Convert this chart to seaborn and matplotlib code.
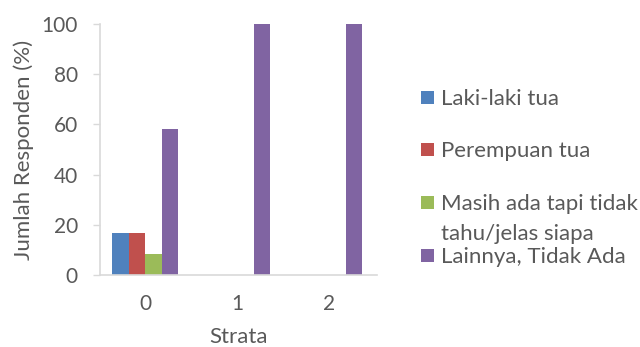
import matplotlib
matplotlib.use("Agg")
import matplotlib.pyplot as plt
from matplotlib.patches import Rectangle
import seaborn as sns
import pandas as pd

strata = ["0", "1", "2"]
series = ["Laki-laki tua", "Perempuan tua", "Masih ada tapi tidak\ntahu/jelas siapa", "Lainnya, Tidak Ada"]
laki_laki_tua = [16.7, 0, 0]
perempuan_tua = [16.7, 0, 0]
tidak_tahu = [8.3, 0, 0]
lainnya = [58.3, 100, 100]
colors = ["#4F81BD", "#C0504D", "#9BBB59", "#8064A2"]

values = [laki_laki_tua, perempuan_tua, tidak_tahu, lainnya]
df = pd.DataFrame(
    [(s, name, v) for name, vals in zip(series, values) for s, v in zip(strata, vals)],
    columns=["Strata", "Seri", "Nilai"],
)

sns.set_theme(style="white")
plt.rcParams["font.family"] = ["Lato", "DejaVu Sans"]
text_color = "#595959"
axis_color = "#D9D9D9"
tick_fs = 15
label_fs = 16

fig = plt.figure(figsize=(6.4, 3.47), dpi=100)
ax = fig.add_axes([0.15625, 0.2075, 0.433, 0.7233])
sns.barplot(data=df, x="Strata", y="Nilai", hue="Seri", hue_order=series,
            palette=colors, width=0.72, saturation=1, legend=False, ax=ax,
            edgecolor="none", linewidth=0)

ax.set_ylim(0, 100)
ax.set_xlim(-0.49, 2.52)
ax.set_yticks([0, 20, 40, 60, 80, 100])
ax.tick_params(axis="y", which="major", length=5, width=1, color=axis_color,
               labelsize=tick_fs, labelcolor=text_color, pad=11, left=True)
ax.tick_params(axis="x", length=0, labelsize=tick_fs, labelcolor=text_color, pad=14)
for side in ["top", "right"]:
    ax.spines[side].set_visible(False)
for side in ["left", "bottom"]:
    ax.spines[side].set_color(axis_color)
    ax.spines[side].set_linewidth(1.2)
ax.set_xlabel("Strata", fontsize=label_fs, color=text_color, labelpad=9)
ax.set_ylabel("Jumlah Responden (%)", fontsize=label_fs, color=text_color, labelpad=5)

# legend drawn in figure pixel coordinates
W, H = 640, 347
entries = [
    (97, ["Laki-laki tua"]),
    (149, ["Perempuan tua"]),
    (202, ["Masih ada tapi tidak", "tahu/jelas siapa"]),
    (255, ["Lainnya, Tidak Ada"]),
]
for (yc, lines), col in zip(entries, colors):
    fig.add_artist(Rectangle((421 / W, 1 - (yc + 6.5) / H), 13 / W, 13 / H,
                             transform=fig.transFigure, facecolor=col, edgecolor="none"))
    for i, line in enumerate(lines):
        fig.text(441 / W, 1 - (yc + 30 * i) / H, line, fontsize=label_fs, color=text_color,
                 va="center_baseline", ha="left")

fig.savefig("out.png", dpi=100)
